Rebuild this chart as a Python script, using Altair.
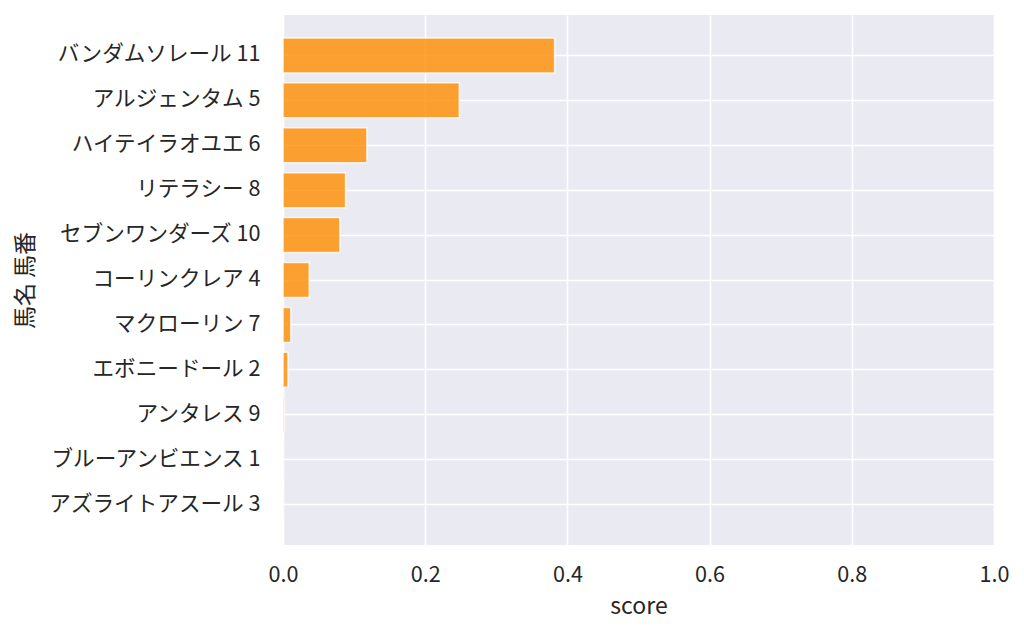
import altair as alt
import pandas as pd

names = ["バンダムソレール 11", "アルジェンタム 5", "ハイテイラオユエ 6", "リテラシー 8",
         "セブンワンダーズ 10", "コーリンクレア 4", "マクローリン 7", "エボニードール 2",
         "アンタレス 9", "ブルーアンビエンス 1", "アズライトアスール 3"]
scores = [0.382, 0.248, 0.118, 0.088, 0.080, 0.037, 0.011, 0.007, 0.002, 0.0005, 0.0004]

df = pd.DataFrame({"name": names, "score": scores})
FONT = "Noto Sans CJK JP"

chart = alt.Chart(df).mark_bar(
    fill="#ff8c00", fillOpacity=0.8, stroke="white", strokeOpacity=0.8, strokeWidth=1.5
).encode(
    x=alt.X("score:Q", title="score",
            scale=alt.Scale(domain=[0, 1], nice=False, zero=True),
            axis=alt.Axis(values=[0, 0.2, 0.4, 0.6, 0.8, 1.0], format=".1f",
                          labelFlush=False, labelPadding=19,
                          titleY=68, titleBaseline="alphabetic")),
    y=alt.Y("name:N", title="馬名 馬番", sort=names,
            scale=alt.Scale(paddingInner=0.22, paddingOuter=0.51),
            axis=alt.Axis(labelPadding=23, labelLimit=400, titleX=-258, titleY=265,
                          titleBaseline="middle", titleAngle=270)),
).properties(
    width=711, height=530,
    autosize=alt.AutoSizeParams(type="none"),
    padding={"left": 275, "top": 7, "right": 22, "bottom": 81},
).configure_view(
    fill="#eaeaf2", stroke=None
).configure_axis(
    grid=True, gridColor="white", gridWidth=1.6, gridOpacity=1,
    domain=False, ticks=False,
    labelFont=FONT, labelFontSize=21.6, labelColor="#262626",
    titleFont=FONT, titleFontSize=23, titleColor="#262626", titleFontWeight="normal",
)

chart.save("out.html", embed_options={"renderer": "svg", "actions": False})
